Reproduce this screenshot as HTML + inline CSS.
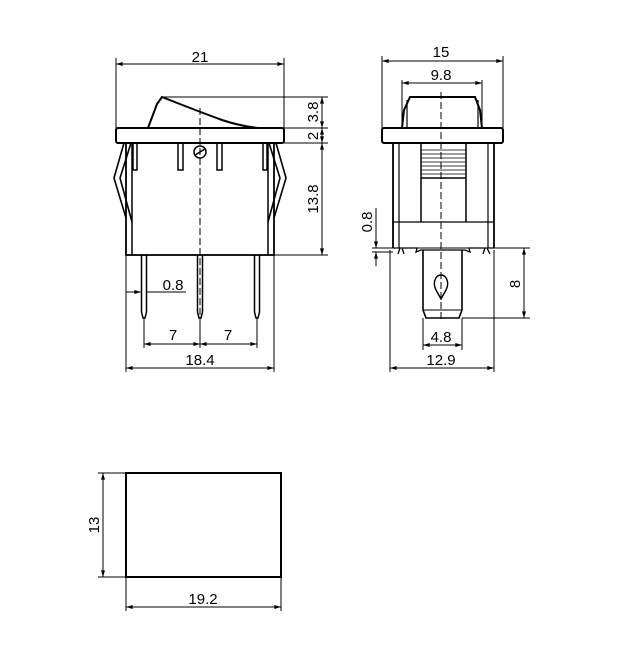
<!DOCTYPE html>
<html><head><style>html,body{margin:0;padding:0;background:#fff}svg{display:block}</style></head>
<body>
<svg width="638" height="654" viewBox="0 0 638 654" xmlns="http://www.w3.org/2000/svg" font-family="Liberation Sans, sans-serif" font-size="15" fill="none" stroke="#000">
<defs>
<marker id="a" viewBox="0 0 10 6" refX="10" refY="3" markerWidth="8" markerHeight="4" orient="auto-start-reverse"><path d="M0,0L10,3L0,6z" fill="#000" stroke="none"/></marker>
</defs>
<g stroke-width="1">
<line x1="116" y1="58" x2="116" y2="128"/><line x1="284" y1="58" x2="284" y2="128"/>
<line x1="116" y1="64" x2="284" y2="64" marker-start="url(#a)" marker-end="url(#a)"/>
<line x1="162" y1="97" x2="328" y2="97"/><line x1="284" y1="128" x2="328" y2="128"/><line x1="284" y1="143" x2="328" y2="143"/><line x1="274" y1="255" x2="328" y2="255"/>
<line x1="322" y1="97" x2="322" y2="128" marker-start="url(#a)" marker-end="url(#a)"/>
<line x1="322" y1="128" x2="322" y2="143" marker-start="url(#a)" marker-end="url(#a)"/>
<line x1="322" y1="143" x2="322" y2="255" marker-start="url(#a)" marker-end="url(#a)"/>
<line x1="126" y1="255" x2="126" y2="372"/><line x1="274" y1="255" x2="274" y2="372"/>
<line x1="144" y1="318" x2="144" y2="348"/><line x1="200" y1="318" x2="200" y2="348"/><line x1="257" y1="318" x2="257" y2="348"/>
<line x1="144" y1="344" x2="200" y2="344" marker-start="url(#a)" marker-end="url(#a)"/>
<line x1="200" y1="344" x2="257" y2="344" marker-start="url(#a)" marker-end="url(#a)"/>
<line x1="126" y1="368" x2="274" y2="368" marker-start="url(#a)" marker-end="url(#a)"/>
<line x1="126" y1="292" x2="141" y2="292" marker-end="url(#a)"/><line x1="147" y1="292" x2="186" y2="292"/>
<line x1="200" y1="108" x2="200" y2="320" stroke-dasharray="7,3"/>
</g>
<g stroke-width="2">
<rect x="116" y="128" width="168" height="15" rx="2"/>
<path d="M148,128 L157,104 L162,97 Q200,112 222,120 Q240,126 258,128"/>
<rect x="126" y="143" width="148" height="112" stroke-width="1.8"/>
<path d="M124,143 L114,178 L126,218 M131,143 L120,178 L132,222 M276,143 L286,178 L274,218 M269,143 L280,178 L268,222" stroke-width="1.6"/>
<line x1="132" y1="143" x2="132" y2="255" stroke-width="1.5"/><line x1="268" y1="143" x2="268" y2="255" stroke-width="1.5"/>
<g stroke-width="1.5">
<rect x="133" y="143" width="4" height="27"/><rect x="178" y="143" width="5" height="27"/><rect x="217" y="143" width="5" height="27"/><rect x="263" y="143" width="4" height="27"/>
<circle cx="200" cy="152" r="6"/><line x1="195" y1="155" x2="205" y2="149"/>
<path d="M141.5,255 V312 L143,318 H145 L146.5,312 V255"/>
<path d="M197.5,255 V312 L199,318 H201 L202.5,312 V255"/>
<path d="M254.5,255 V312 L256,318 H258 L259.5,312 V255"/>
</g>
</g>
<g fill="#000" stroke="none" text-anchor="middle">
<text x="200" y="62">21</text>
<text x="173" y="290">0.8</text>
<text x="173" y="340">7</text><text x="228" y="340">7</text>
<text x="200" y="365">18.4</text>
<text transform="translate(318,112) rotate(-90)">3.8</text>
<text transform="translate(318,136) rotate(-90)">2</text>
<text transform="translate(318,199) rotate(-90)">13.8</text>
</g>
<g stroke-width="1">
<line x1="382" y1="56" x2="382" y2="128"/><line x1="503" y1="56" x2="503" y2="128"/>
<line x1="382" y1="61" x2="503" y2="61" marker-start="url(#a)" marker-end="url(#a)"/>
<line x1="402" y1="80" x2="402" y2="128"/><line x1="482" y1="80" x2="482" y2="128"/>
<line x1="402" y1="83" x2="482" y2="83" marker-start="url(#a)" marker-end="url(#a)"/>
<line x1="441" y1="92" x2="441" y2="322" stroke-dasharray="7,3"/>
<line x1="372" y1="248" x2="530" y2="248"/><line x1="372" y1="252" x2="393" y2="252"/>
<line x1="376" y1="208" x2="376" y2="248" marker-end="url(#a)"/><line x1="376" y1="252" x2="376" y2="266" marker-start="url(#a)"/>
<line x1="462" y1="318" x2="530" y2="318"/>
<line x1="524" y1="248" x2="524" y2="318" marker-start="url(#a)" marker-end="url(#a)"/>
<line x1="423" y1="318" x2="423" y2="350"/><line x1="462" y1="318" x2="462" y2="350"/>
<line x1="423" y1="345" x2="462" y2="345" marker-start="url(#a)" marker-end="url(#a)"/>
<line x1="390" y1="250" x2="390" y2="372"/><line x1="494" y1="250" x2="494" y2="372"/>
<line x1="390" y1="368" x2="494" y2="368" marker-start="url(#a)" marker-end="url(#a)"/>
</g>
<g stroke-width="2">
<path d="M402,128 L404,110 L410,97 H475 L480,110 L482,128"/>
<line x1="407" y1="100" x2="407" y2="128" stroke-width="1.2"/><line x1="478" y1="100" x2="478" y2="128" stroke-width="1.2"/>
<rect x="382" y="128" width="121" height="15" rx="2"/>
<path d="M393,143 V248 M494,143 V248" stroke-width="1.8"/>
<path d="M399,143 V248 M488,143 V248" stroke-width="1.2"/>
<path d="M421,143 V222 M466,143 V222" stroke-width="1.5"/>
<line x1="393" y1="222" x2="494" y2="222" stroke-width="1.2"/>
<line x1="421" y1="178" x2="466" y2="178" stroke-width="1.5"/>
<path d="M421,150H466M421,154H466M421,158H466M421,162H466M421,166H466M421,170H466M421,174H466" stroke-width="0.8"/>
<path d="M393,248 H400 L398,254 M404,254 L402,248 H417 L416,252 L421,250 H465 L470,252 L469,248 H485 L483,254 M490,254 L487,248 H494" stroke-width="1.3"/>
<path d="M423,250 V310 L426,318 H459 L462,310 V250" stroke-width="1.6"/>
<line x1="423" y1="310" x2="462" y2="310" stroke-width="1"/>
<path d="M441,299 L436,290 C432,282 436,275 441,275 C446,275 450,282 446,290 Z" stroke-width="1.4"/>
</g>
<g fill="#000" stroke="none" text-anchor="middle">
<text x="441" y="57">15</text>
<text x="441" y="80">9.8</text>
<text x="441" y="342">4.8</text>
<text x="441" y="365">12.9</text>
<text transform="translate(372,222) rotate(-90)">0.8</text>
<text transform="translate(520,284) rotate(-90)">8</text>
</g>
<rect x="126" y="473" width="155" height="104" stroke-width="2"/>
<g stroke-width="1">
<line x1="98" y1="473" x2="126" y2="473"/><line x1="98" y1="577" x2="126" y2="577"/>
<line x1="103" y1="473" x2="103" y2="577" marker-start="url(#a)" marker-end="url(#a)"/>
<line x1="126" y1="577" x2="126" y2="611"/><line x1="281" y1="577" x2="281" y2="611"/>
<line x1="126" y1="607" x2="281" y2="607" marker-start="url(#a)" marker-end="url(#a)"/>
</g>
<g fill="#000" stroke="none" text-anchor="middle">
<text x="203" y="604">19.2</text>
<text transform="translate(99,525) rotate(-90)">13</text>
</g>
</svg>
</body></html>
